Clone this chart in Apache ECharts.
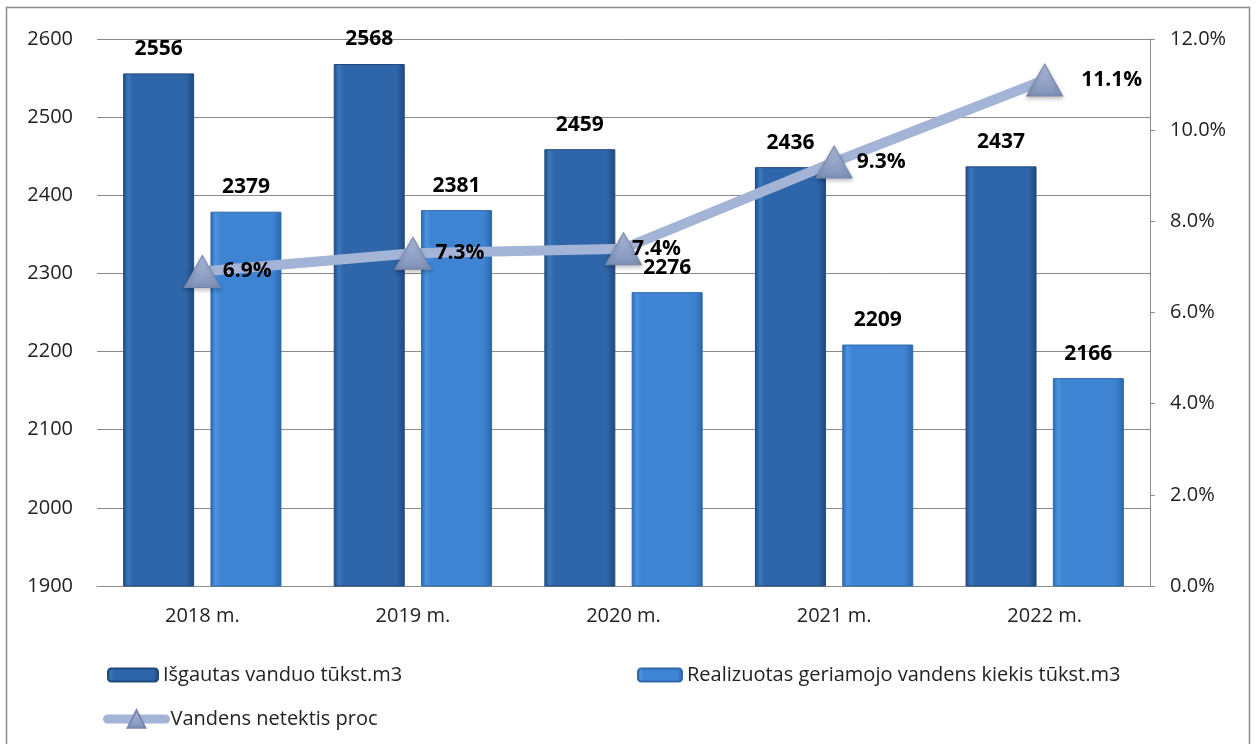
<!DOCTYPE html>
<html>
<head>
<meta charset="utf-8">
<script src="https://cdn.jsdelivr.net/npm/echarts@6/dist/echarts.min.js"></script>
<style>
  html, body { margin: 0; padding: 0; background: #fff; }
  #main { width: 1257px; height: 744px; }
</style>
</head>
<body>
<div id="main"></div>
<script>
// data
const years = ['2018 m.', '2019 m.', '2020 m.', '2021 m.', '2022 m.'];
const isgautas = [2556, 2568, 2459, 2436, 2437];
const realizuotas = [2379, 2381, 2276, 2209, 2166];
const netektis = [6.9, 7.3, 7.4, 9.3, 11.1];

const names = ['Išgautas vanduo tūkst.m3', 'Realizuotas geriamojo vandens kiekis tūkst.m3', 'Vandens netektis proc'];
const FONT = '"Open Sans", sans-serif';

// label nudges for the percent labels (Excel placed them by hand)
const pctShift = [0, 2, -12, 2, 16];

// horizontal gradient to fake the bevelled bar edges
function bevel(edge, body, light) {
  return new echarts.graphic.LinearGradient(0, 0, 1, 0, [
    { offset: 0, color: edge },
    { offset: 0.07, color: light },
    { offset: 0.14, color: body },
    { offset: 0.88, color: body },
    { offset: 1, color: edge }
  ]);
}

const myChart = echarts.init(document.getElementById('main'));

const legendText = { fontSize: 20, color: '#222', fontFamily: FONT };

myChart.setOption({
  backgroundColor: '#fff',
  animation: false,
  textStyle: { fontFamily: FONT },
  graphic: [{
    type: 'rect',
    shape: { x: 6.5, y: 7.5, width: 1243, height: 745 },
    style: { fill: 'none', stroke: '#8c8c8c', lineWidth: 1.5 },
    silent: true
  }],
  grid: { left: 97, right: 107, top: 39, bottom: 158 },
  legend: [
    { left: 102, top: 660, itemWidth: 50, itemHeight: 13, itemGap: 4, data: [names[0]], textStyle: legendText },
    { left: 632, top: 660, itemWidth: 44, itemHeight: 13, data: [names[1]], textStyle: legendText },
    {
      left: 98, top: 704, itemWidth: 58, itemHeight: 22, data: [names[2]], textStyle: legendText,
      lineStyle: { width: 9, cap: 'round', color: '#a3b4d6' }
    }
  ],
  xAxis: {
    type: 'category',
    data: years,
    axisLine: { lineStyle: { color: '#8c8c8c', width: 1 } },
    axisTick: { show: false },
    axisLabel: { fontSize: 20, color: '#222', margin: 20 }
  },
  yAxis: [
    {
      type: 'value', min: 1900, max: 2600, interval: 100,
      axisLine: { show: false },
      axisTick: { show: false },
      splitLine: { lineStyle: { color: '#8a8a8a', width: 1 } },
      axisLabel: { fontSize: 20, color: '#222', margin: 24, formatter: v => String(v) }
    },
    {
      type: 'value', min: 0, max: 12, interval: 2,
      position: 'right',
      axisLine: { show: true, lineStyle: { color: '#8c8c8c', width: 1 } },
      axisTick: { show: true, length: 5, lineStyle: { color: '#8c8c8c' } },
      splitLine: { show: false },
      axisLabel: { fontSize: 20, color: '#222', margin: 20, formatter: v => v.toFixed(1) + '%' }
    }
  ],
  series: [
    {
      name: names[0], type: 'bar', data: isgautas,
      barWidth: 71, barGap: '23%',
      itemStyle: { color: bevel('#1f4a80', '#2e66a9', '#3a77bf'), borderColor: '#21497c', borderWidth: 1 },
      label: { show: true, position: 'top', distance: 14, fontSize: 21, fontWeight: 'bold', color: '#000' }
    },
    {
      name: names[1], type: 'bar', data: realizuotas,
      barWidth: 71,
      itemStyle: { color: bevel('#2c66ac', '#3e84d2', '#4b93e0'), borderColor: '#2f68ab', borderWidth: 1 },
      label: { show: true, position: 'top', distance: 14, fontSize: 21, fontWeight: 'bold', color: '#000' }
    },
    {
      name: names[2], type: 'line', yAxisIndex: 1,
      data: netektis.map((v, i) => ({
        value: v,
        label: { offset: [pctShift[i], 0] }
      })),
      lineStyle: { color: '#a3b4d6', width: 10 },
      symbol: 'triangle', symbolSize: [36, 32],
      itemStyle: {
        color: new echarts.graphic.LinearGradient(0, 0, 0, 1, [
          { offset: 0, color: '#aebde0' },
          { offset: 1, color: '#7f90b6' }
        ]),
        borderColor: '#7787ab', borderWidth: 1,
        shadowColor: 'rgba(0,0,0,0.25)', shadowBlur: 4, shadowOffsetY: 2
      },
      z: 5,
      label: {
        show: true, position: 'right', distance: 2,
        fontSize: 21, fontWeight: 'bold', color: '#000',
        formatter: p => p.value.toFixed(1) + '%'
      }
    }
  ]
});
</script>
</body>
</html>
